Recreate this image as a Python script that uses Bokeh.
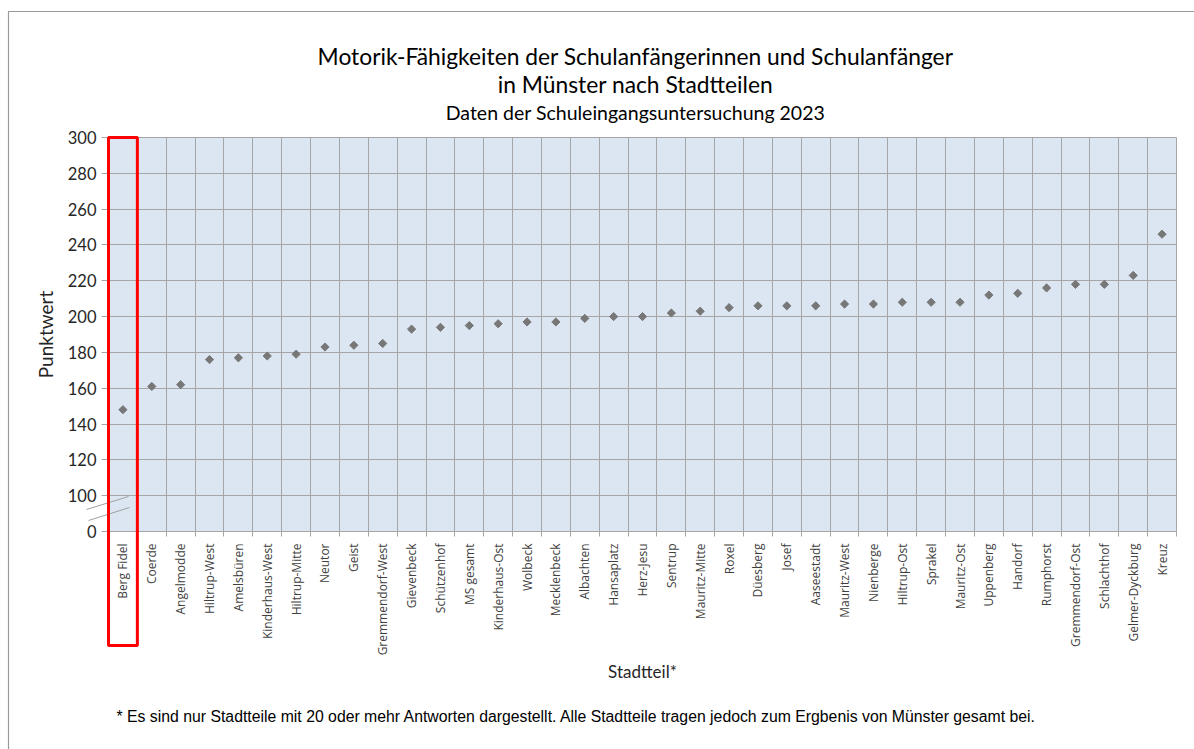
import numpy as np
from bokeh.plotting import figure
from bokeh.models import (FixedTicker, Label, BoxAnnotation, ColumnDataSource, Range1d)
from bokeh.embed import file_html
from bokeh.resources import INLINE

districts = ["Berg Fidel", "Coerde", "Angelmodde", "Hiltrup-West", "Amelsbüren",
             "Kinderhaus-West", "Hiltrup-Mitte", "Neutor", "Geist", "Gremmendorf-West",
             "Gievenbeck", "Schützenhof", "MS gesamt", "Kinderhaus-Ost", "Wolbeck",
             "Mecklenbeck", "Albachten", "Hansaplatz", "Herz-Jesu", "Sentrup",
             "Mauritz-Mitte", "Roxel", "Düesberg", "Josef", "Aaseestadt",
             "Mauritz-West", "Nienberge", "Hiltrup-Ost", "Sprakel", "Mauritz-Ost",
             "Uppenberg", "Handorf", "Rumphorst", "Gremmendorf-Ost", "Schlachthof",
             "Gelmer-Dyckburg", "Kreuz"]
scores = [148, 161, 162, 176, 177, 178, 179, 183, 184, 185,
          193, 194, 195, 196, 197, 197, 199, 200, 200, 202,
          203, 205, 206, 206, 206, 207, 207, 208, 208, 208,
          212, 213, 216, 218, 218, 223, 246]
highlight = "Berg Fidel"
y_ticks = [80, 100, 120, 140, 160, 180, 200, 220, 240, 260, 280, 300]
y_tick_labels = ["0", "100", "120", "140", "160", "180", "200", "220", "240", "260", "280", "300"]

title1 = "Motorik-Fähigkeiten der Schulanfängerinnen und Schulanfänger"
title2 = "in Münster nach Stadtteilen"
title3 = "Daten der Schuleingangsuntersuchung 2023"
footnote = ("* Es sind nur Stadtteile mit 20 oder mehr Antworten dargestellt. "
            "Alle Stadtteile tragen jedoch zum Ergbenis von Münster gesamt bei.")

n = len(districts)
xs = list(range(n))
src = ColumnDataSource(dict(x=xs, y=scores, name=districts))

FONT = "Lato"
GRID = "#a6a6a6"
W, H = 1194, 749
FL, FR, FT, FB = 108, 1176, 137, 531      # frame edges on the canvas
Y0, Y1 = 80, 300
X0, X1 = -0.5, n - 0.5
sx = (FR - FL) / (X1 - X0)
sy = (FB - FT) / (Y1 - Y0)

p = figure(width=W, height=H, x_range=Range1d(X0, X1), y_range=Range1d(Y0, Y1),
           output_backend="svg", toolbar_location=None,
           min_border_left=FL, min_border_right=W - FR, min_border_top=FT, min_border_bottom=H - FB,
           background_fill_color="#dce6f2", border_fill_color="white")
p.outline_line_color = GRID

p.scatter("x", "y", source=src, marker="square", angle=np.pi / 4, size=5.8,
          fill_color="#777777", line_color="#777777")

# x axis: labels at category centers, ticks/grid at category boundaries
bounds = [i - 0.5 for i in range(n + 1)]
p.xaxis.ticker = FixedTicker(ticks=xs, minor_ticks=bounds)
p.xaxis.major_label_overrides = {i: d for i, d in enumerate(districts)}
p.xaxis.major_label_orientation = np.pi / 2
p.xaxis.major_tick_line_color = None
p.xaxis.minor_tick_out = 5
p.xaxis.minor_tick_in = 0
p.xaxis.minor_tick_line_color = GRID
p.xaxis.axis_line_color = GRID
p.xaxis.major_label_text_font = "Open Sans"
p.xaxis.major_label_text_font_size = "12px"
p.xaxis.major_label_text_color = "#404040"
p.xaxis.major_label_standoff = 6
p.xaxis.axis_label = "Stadtteil*"
p.xaxis.axis_label_text_font = FONT
p.xaxis.axis_label_text_font_size = "17px"
p.xaxis.axis_label_text_font_style = "normal"
p.xaxis.axis_label_text_color = "#262626"
p.xaxis.axis_label_standoff = 3
p.xgrid.grid_line_color = None
p.xgrid.minor_grid_line_color = GRID
p.xgrid.minor_grid_line_width = 1

# y axis (with break between 0 and 100)
p.yaxis.ticker = FixedTicker(ticks=y_ticks)
p.yaxis.major_label_overrides = {t: l for t, l in zip(y_ticks, y_tick_labels)}
p.yaxis.minor_tick_line_color = None
p.yaxis.major_tick_out = 7
p.yaxis.major_tick_in = 0
p.yaxis.major_tick_line_color = GRID
p.yaxis.axis_line_color = GRID
p.yaxis.major_label_text_font = FONT
p.yaxis.major_label_text_font_size = "16.5px"
p.yaxis.major_label_text_color = "#262626"
p.yaxis.major_label_standoff = 5
p.yaxis.axis_label = "Punktwert"
p.yaxis.axis_label_text_font = FONT
p.yaxis.axis_label_text_font_size = "19px"
p.yaxis.axis_label_text_font_style = "normal"
p.yaxis.axis_label_text_color = "#262626"
p.yaxis.axis_label_standoff = 8
p.ygrid.grid_line_color = GRID
p.ygrid.grid_line_width = 1

# transparent overlay figure sharing the same data coordinates, covering the whole canvas
q = figure(width=W, height=H,
           x_range=Range1d(X0 - FL / sx, X1 + (W - FR) / sx),
           y_range=Range1d(Y0 - (H - FB) / sy, Y1 + FT / sy),
           output_backend="svg", toolbar_location=None,
           x_axis_location=None, y_axis_location=None, min_border=0,
           background_fill_color=None, border_fill_color=None,
           styles={"position": "absolute", "left": "0px", "top": "0px",
                   "z-index": "10", "pointer-events": "none"})
q.outline_line_color = None
q.grid.visible = False

# outer chart border (top and left)
q.add_layout(BoxAnnotation(left=8, right=W + 20, top=H - 11, bottom=-20,
                           left_units="screen", right_units="screen",
                           top_units="screen", bottom_units="screen",
                           fill_color=None, fill_alpha=0,
                           line_color="#9a9a9a", line_alpha=1, line_width=1.2))

# axis break marks crossing the y axis
brk_x0 = [X0 - 22 / sx, X0 - 20 / sx]
brk_x1 = [X0 + 20 / sx, X0 + 21 / sx]
brk_y0 = [Y0 + 22 / sy, Y0 + 11 / sy]
brk_y1 = [Y0 + 35 / sy, Y0 + 24 / sy]
q.segment(brk_x0, brk_y0, brk_x1, brk_y1, line_color="#a0a0a0", line_width=1)

# highlight box around one district (through plot area and its label)
hi = districts.index(highlight)
q.add_layout(BoxAnnotation(left=hi - 0.5, right=hi + 0.5, top=Y1, bottom=Y0 - 114 / sy,
                           fill_color=None, fill_alpha=0,
                           line_color="#ff0000", line_alpha=1, line_width=3))

# titles and footnote (screen units: from canvas bottom-left)
for txt, yy, fs in [(title1, H - 55, "22.8px"), (title2, H - 83, "22.8px"), (title3, H - 112, "19.5px")]:
    q.add_layout(Label(x=635, y=yy, x_units="screen", y_units="screen", text=txt,
                       text_align="center", text_baseline="middle",
                       text_font=FONT, text_font_size=fs, text_color="#000000"))
q.add_layout(Label(x=116, y=H - 716, x_units="screen", y_units="screen", text=footnote,
                   text_align="left", text_baseline="middle",
                   text_font="Liberation Sans", text_font_size="15.8px", text_color="#000000"))

open("out.html", "w").write(file_html([p, q], INLINE))
